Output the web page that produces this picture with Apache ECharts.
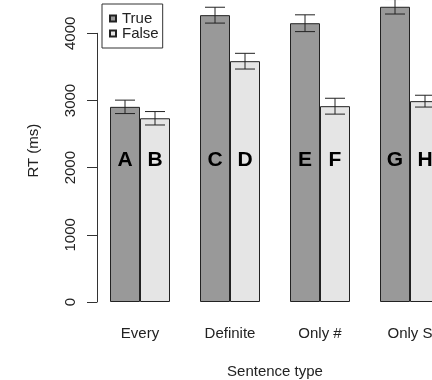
<!DOCTYPE html>
<html>
<head>
<meta charset="utf-8">
<script src="https://cdn.jsdelivr.net/npm/echarts@6/dist/echarts.min.js"></script>
<style>html,body{margin:0;padding:0;background:#fff}#c{width:432px;height:380px}</style>
</head>
<body>
<div id="c"></div>
<script>
const categories = ['Every', 'Definite', 'Only #', 'Only S'];
const trueMeans = [2905, 4270, 4150, 4395];
const falseMeans = [2735, 3585, 2915, 2990];
const trueSE = [100, 118, 125, 108];
const falseSE = [100, 117, 118, 88];
const trueLetters = ['A', 'C', 'E', 'G'];
const falseLetters = ['B', 'D', 'F', 'H'];
const yTicks = [0, 1000, 2000, 3000, 4000];

const FONT = 'Liberation Sans, Arial, Helvetica, sans-serif';
const INK = '#222';

const errData = [];
categories.forEach((c, i) => {
  errData.push([i, trueMeans[i], trueSE[i], -1]);
  errData.push([i, falseMeans[i], falseSE[i], 1]);
});

function letterLabel(arr) {
  return {
    show: true, position: 'insideBottom', distance: 131,
    formatter: p => arr[p.dataIndex],
    fontFamily: FONT, fontWeight: 'bold', fontSize: 21, color: '#000'
  };
}

const chart = echarts.init(document.getElementById('c'), null, {renderer: 'canvas'});
chart.setOption({
  animation: false,
  backgroundColor: '#fff',
  textStyle: {fontFamily: FONT},
  grid: {left: 95, width: 360, top: 33.3, height: 268.7, containLabel: false, outerBoundsMode: 'none'},
  legend: {
    orient: 'vertical', left: 102, top: 4,
    data: ['True', 'False'],
    icon: 'rect', itemWidth: 6, itemHeight: 6, itemGap: 0,
    padding: [7, 4, 7, 7],
    borderColor: '#333', borderWidth: 1,
    textStyle: {fontFamily: FONT, fontSize: 15, color: INK, lineHeight: 15, padding: [0, 0, 0, 1]}
  },
  xAxis: {
    type: 'category', data: categories,
    axisLine: {show: false}, axisTick: {show: false},
    axisLabel: {fontFamily: FONT, fontSize: 15, color: INK, margin: 24},
    name: 'Sentence type', nameLocation: 'middle', nameGap: 62,
    nameTextStyle: {fontFamily: FONT, fontSize: 15, color: INK}
  },
  yAxis: {
    type: 'value', min: 0, max: 4000, interval: 1000, offset: -2,
    splitLine: {show: false},
    axisLine: {show: true, lineStyle: {color: '#333', width: 1}},
    axisTick: {show: true, length: 10, lineStyle: {color: '#333'}},
    axisLabel: {fontFamily: FONT, fontSize: 15, color: INK, rotate: 90, margin: 19,
      formatter: v => yTicks.includes(v) ? String(v) : ''},
    name: 'RT (ms)', nameLocation: 'middle', nameGap: 56, nameRotate: 90,
    nameTextStyle: {fontFamily: FONT, fontSize: 15, color: INK, padding: [0, 0, 0, 34]}
  },
  series: [
    {
      name: 'True', type: 'bar', data: trueMeans, barWidth: 30, barGap: '0%',
      clip: false,
      itemStyle: {color: '#999999', borderColor: '#222', borderWidth: 1},
      label: letterLabel(trueLetters)
    },
    {
      name: 'False', type: 'bar', data: falseMeans, barWidth: 30, barGap: '0%',
      clip: false,
      itemStyle: {color: '#e5e5e5', borderColor: '#222', borderWidth: 1},
      label: letterLabel(falseLetters)
    },
    {
      type: 'custom', data: errData, clip: false, z: 10,
      renderItem: function (params, api) {
        const idx = api.value(0), m = api.value(1), se = api.value(2), side = api.value(3);
        const band = api.size([1, 0])[0];
        const c = api.coord([idx, m]);
        const x = c[0] + side * band / 6;
        const yHi = api.coord([idx, m + se])[1];
        const yLo = api.coord([idx, m - se])[1];
        const hw = 10;
        const st = {stroke: '#222', lineWidth: 1, fill: null};
        return {
          type: 'group',
          children: [
            {type: 'line', shape: {x1: x, y1: yHi, x2: x, y2: yLo}, style: st},
            {type: 'line', shape: {x1: x - hw, y1: yHi, x2: x + hw, y2: yHi}, style: st},
            {type: 'line', shape: {x1: x - hw, y1: yLo, x2: x + hw, y2: yLo}, style: st}
          ]
        };
      }
    }
  ]
});
</script>
</body>
</html>
